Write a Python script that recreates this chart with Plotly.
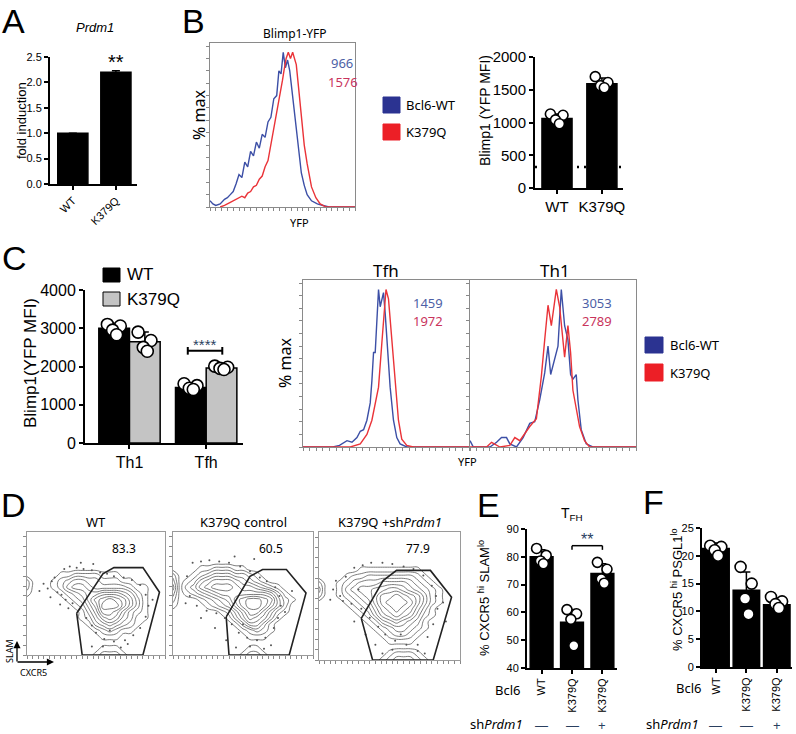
import plotly.graph_objects as go

W, H = 796, 734
BAR_FONT = 'Liberation Sans, Arial, sans-serif'
FLOW_FONT = 'Noto Sans, Open Sans, sans-serif'
BLUE_LINE = '#3c4fa6'
RED_LINE = '#ea3338'
BLUE_TEXT = '#4d5fa6'
RED_TEXT = '#c9345c'
BLUE_KEY = '#2b3391'
RED_KEY = '#ec1f26'

# ---------------- data ----------------
# A
A_CATS = ['WT', 'K379Q']
A_VALUES = [1.0, 2.2]
A_ERR = [0.0, 0.03]

# B
B_CATS = ['WT', 'K379Q']
B_VALUES = [1060, 1590]
B_ERR = [70, 90]
B_POINTS = [[1130, 1110, 1040, 980], [1700, 1610, 1560, 1530]]
B_BACKGROUND = 320
B_MFI = ['966', '1576']
HIST_KEYS = ['Bcl6-WT', 'K379Q']

B_BLUE_X = [0, 2, 4, 7, 10, 12, 14, 16, 18, 20, 22, 24, 26, 28, 30, 32, 34, 36, 38, 40,
            42, 44, 46, 47.5, 49, 50.5, 52, 53.5, 55, 57, 59, 61, 63, 65, 67, 70, 74, 78, 82, 100]
B_BLUE_Y = [4, 2, 1, 2, 5, 6, 8, 10, 15, 21, 19, 29, 26, 36, 33, 42, 38, 47, 45, 55,
            58, 70, 72, 88, 86, 100, 90, 95, 88, 72, 55, 38, 22, 14, 8, 4, 2, 1, 0, 0]
B_RED_X = [7, 10, 14, 18, 22, 24, 26, 28, 30, 32, 34, 36, 38, 40, 42, 44, 46, 48, 50, 51,
           52.5, 54, 55.5, 57, 58, 59.5, 61, 63, 65, 67, 70, 73, 76, 80, 100]
B_RED_Y = [0, 1, 3, 5, 7, 6, 9, 10, 13, 14, 18, 20, 26, 30, 40, 50, 60, 72, 82, 88,
           96, 100, 96, 100, 97, 92, 78, 58, 40, 28, 13, 6, 2, 0, 0]

# C
C_GROUPS = ['Th1', 'Tfh']
C_SERIES = ['WT', 'K379Q']
C_WT = [3000, 1450]
C_K379Q = [2650, 1960]
C_WT_ERR = [130, 80]
C_K379Q_ERR = [250, 50]
C_WT_POINTS = [[3100, 3060, 2950, 2830], [1550, 1500, 1430, 1400]]
C_K379Q_POINTS = [[2900, 2680, 2500, 2400], [2010, 1980, 1950, 1920]]

C_HIST_TITLES = ['Tfh', 'Th1']
C_MFI = [['1459', '1972'], ['3053', '2789']]
TFH_BLUE_X = [0, 18, 22, 26.5, 29.5, 32.5, 34.5, 36.5, 38.5, 40.5, 41.5, 42.5, 43.5, 44.5,
              45.5, 46.5, 47.5, 48.5, 49.5, 50.5, 52.5, 54.5, 56.5, 58.5, 62.5, 100]
TFH_BLUE_Y = [0, 0, 1, 4, 3, 6, 10, 11, 17, 28, 42, 60, 60, 83,
              100, 89, 94, 98, 85, 68, 38, 17, 6, 2, 0, 0]
TFH_RED_X = [0, 28.5, 34.5, 38.5, 41.5, 43.5, 45.5, 47.5, 49, 50, 51.5, 53.5, 55.5, 57.5,
             59.5, 62.5, 66.5, 100]
TFH_RED_Y = [0, 0, 2, 8, 17, 28, 38, 66, 89, 100, 94, 68, 38, 17, 5, 1, 0, 0]
TH1_BLUE_X = [0, 2, 12, 16, 19, 22, 24, 28, 32, 36, 39, 42, 45, 47, 48.6, 51, 53, 55, 57, 59,
              60.6, 62, 64, 65, 67, 70, 74, 100]
TH1_BLUE_Y = [4, 0, 0, 3, 6, 6, 2, 0, 6, 15, 16, 30, 47, 64, 46, 55, 64, 100, 77, 68,
              46, 43, 46, 30, 11, 2, 0, 0]
TH1_RED_X = [0, 10, 13, 16, 18, 24, 27, 30, 32, 36, 40, 43, 45, 47, 49, 52, 54, 56, 57, 59,
             60.6, 62, 64, 66, 69, 72, 100]
TH1_RED_Y = [0, 0, 3, 1, 0, 1, 6, 4, 7, 13, 18, 45, 68, 90, 77, 100, 89, 70, 57, 77,
             60, 36, 25, 13, 4, 0, 0]

# D  (density levels per 5-unit cell, top row first)
D_TITLES = ['WT', 'K379Q control', 'K379Q +sh<i>Prdm1</i>']
D_PCT = ['83.3', '60.5', '77.9']
D_GRID_WT = [
    '000000000000000000000', '000000000000000000000', '000000000000000000000',
    '000000000000000000000', '000000000000000000000', '000000000000000000000',
    '000000000000000000000',
    '000001122221110000000',
    '200012344332221100000',
    '200012455433333211000',
    '100001234556665421000',
    '000000123578987531000',
    '000000012469997531000',
    '000000001358875321000',
    '000000001246764311000',
    '000000000134543210000',
    '000000000012321100000',
    '000000000001110000000',
    '000000000000000000000',
    '000000000001110000000',
    '000000000012221000000',
]
D_GRID_K379Q = [
    '000000000000000000000', '000000000000000000000', '000000000000000000000',
    '000000000000000000000', '000000000000000000000', '000000000000000000000',
    '000011222110000000000',
    '200123444332100000000',
    '301245666543210000000',
    '402356777655432100000',
    '301234566666665310000',
    '200012345789987421000',
    '100001234689986420000',
    '000000012468864210000',
    '000000001357653100000',
    '000000000135531000000',
    '000000000012321000000',
    '000000000001110000000',
    '000000000000000000000',
    '000000000001100000000',
    '000000000012210000000',
]
D_GRID_SH = [
    '000000000000000000000', '000000000000000000000', '000000000000000000000',
    '000000000000000000000', '000000000000000000000', '000000000000000000000',
    '000000111111111000000',
    '000012233333332100000',
    '200123444555543210000',
    '300134556677654321000',
    '200123456889876421000',
    '000012346899986421000',
    '000001235789875310000',
    '000000124678764210000',
    '000000012456543100000',
    '000000001234432100000',
    '000000000123321000000',
    '000000000011110000000',
    '000000000000000000000',
    '000000000012221000000',
    '000000000123332100000',
]
D_GRID_STEP = [0, 5, 10, 15, 20, 25, 30, 35, 40, 45, 50, 55, 60, 65, 70, 75, 80, 85, 90, 95, 100]

D_GATE_WT = [(36, 34), (55, 66), (63, 71), (84, 71), (96, 51), (84, 0), (40, 0), (36, 34)]
D_GATE_K379Q = [(38, 31), (55, 64), (64, 69.5), (81, 69.5), (95, 50.5), (83, 0), (40, 0), (38, 31)]
D_GATE_SH = [(30, 32.5), (45.5, 62), (55, 70), (79, 70), (94, 49), (81, 0), (38, 0), (30, 32.5)]

D_DOTS_WT = [(12, 58), (15, 54), (18, 60), (20, 63), (22, 51), (25, 49), (17, 47), (27, 70),
             (31, 72), (36, 71), (41, 70), (47, 69), (53, 67), (58, 66), (63, 64), (70, 63),
             (76, 61), (82, 57), (86, 49), (88, 40), (86, 31), (82, 22), (77, 16), (71, 12),
             (63, 11), (56, 13), (50, 18), (47, 24), (43, 30), (38, 37), (33, 42), (28, 45),
             (55, 7), (68, 6), (47, 7), (9, 52), (60, 20), (73, 9), (39, 75), (48, 74),
             (91, 45), (30, 38), (24, 41)]
D_DOTS_K379Q = [(10, 64), (12, 48), (14, 75), (20, 76), (26, 77), (33, 76), (40, 75), (48, 72),
                (55, 68), (62, 63), (67, 60), (73, 55), (76, 48), (77, 40), (75, 30), (72, 22),
                (66, 14), (60, 12), (53, 14), (47, 18), (42, 25), (37, 30), (31, 34), (24, 36),
                (17, 40), (9, 42), (55, 7), (65, 5), (45, 6), (80, 35), (30, 22), (50, 25),
                (85, 52), (38, 12), (70, 8), (20, 30), (58, 78), (44, 80)]
D_DOTS_SH = [(12, 62), (15, 50), (19, 65), (25, 72), (31, 74), (37, 76), (45, 76), (52, 75),
             (60, 73), (67, 71), (74, 66), (80, 58), (83, 50), (84, 40), (81, 28), (77, 18),
             (70, 12), (62, 12), (54, 15), (47, 20), (42, 26), (36, 33), (30, 40), (23, 44),
             (17, 46), (8, 47), (52, 8), (70, 7), (45, 5), (88, 45), (25, 30), (33, 20),
             (58, 20), (90, 30), (40, 12), (75, 5), (10, 55), (28, 55)]

# E
E_CATS = ['WT', 'K379Q', 'K379Q']
E_VALUES = [80, 56.5, 74]
E_ERR = [2.5, 4.5, 3.5]
E_POINTS = [[83, 80.5, 78.5, 77.5], [61, 59.5, 57.5, 48], [78, 75.5, 72, 70.5]]
SH_ROW = ['\u2014', '\u2014', '+']

# F
F_CATS = ['WT', 'K379Q', 'K379Q']
F_VALUES = [21.3, 13.8, 11.2]
F_ERR = [1.0, 3.3, 1.2]
F_POINTS = [[21.8, 21.6, 21.0, 20.0], [18.0, 15.0, 12.3, 9.5], [12.6, 11.8, 11.3, 10.6]]

JITTER = [-0.22, 0.2, -0.05, 0.08]

# ---------------- helpers ----------------
traces = []
layout = dict(width=W, height=H, margin=dict(l=0, r=0, t=0, b=0),
              paper_bgcolor='white', plot_bgcolor='white', showlegend=False,
              barmode='overlay', annotations=[], shapes=[])


def xr(n):
    return 'x' if n == 1 else f'x{n}'


def yr(n):
    return 'y' if n == 1 else f'y{n}'


def xk(n):
    return 'xaxis' if n == 1 else f'xaxis{n}'


def yk(n):
    return 'yaxis' if n == 1 else f'yaxis{n}'


def ann(x, y, text, size, color='black', family=BAR_FONT, angle=0, xanchor='center'):
    layout['annotations'].append(dict(
        x=x / W, y=1 - y / H, xref='paper', yref='paper', text=text, showarrow=False,
        textangle=angle, xanchor=xanchor, yanchor='middle',
        font=dict(size=size, color=color, family=family)))


def arrow(x, y, ax, ay):
    layout['annotations'].append(dict(
        x=x / W, y=1 - y / H, xref='paper', yref='paper', axref='pixel', ayref='pixel',
        ax=ax, ay=ay, text='', showarrow=True, arrowhead=2, arrowsize=1.1,
        arrowwidth=1.3, arrowcolor='black'))


def box(x0, y0, x1, y1, fill, line='black'):
    layout['shapes'].append(dict(type='rect', xref='paper', yref='paper',
                                 x0=x0 / W, x1=x1 / W, y0=1 - y1 / H, y1=1 - y0 / H,
                                 fillcolor=fill, line=dict(color=line, width=1)))


def bar_axes(n, px0, px1, ptop, pbot, xrange, yrange, labels, dtick, tsize,
             angle=0, fmt=None):
    common = dict(showline=True, linewidth=2, linecolor='black', ticks='outside',
                  ticklen=4, tickwidth=2, tickcolor='black', showgrid=False,
                  zeroline=False, automargin=False,
                  tickfont=dict(family=BAR_FONT, size=tsize, color='black'))
    layout[xk(n)] = dict(domain=[px0 / W, px1 / W], anchor=yr(n), range=xrange,
                         tickvals=list(range(len(labels))), ticktext=labels,
                         tickangle=angle, **common)
    layout[yk(n)] = dict(domain=[1 - pbot / H, 1 - ptop / H], anchor=xr(n), range=yrange,
                         dtick=dtick, tickformat=fmt, **common)


def flow_axes(n, px0, px1, ptop, pbot, yrange, color='#8a8a8a'):
    common = dict(showline=True, mirror=True, linecolor=color, linewidth=1,
                  ticks='outside', ticklen=3, tickcolor='#888', showticklabels=False,
                  showgrid=False, zeroline=False, automargin=False)
    layout[xk(n)] = dict(domain=[px0 / W, px1 / W], anchor=yr(n), range=[0, 100],
                         dtick=4, **common)
    layout[yk(n)] = dict(domain=[1 - pbot / H, 1 - ptop / H], anchor=xr(n), range=yrange,
                         dtick=8, **common)


def bars_with_points(n, xs, values, err, points, width, color, size):
    traces.append(go.Bar(x=xs, y=values, width=width, xaxis=xr(n), yaxis=yr(n),
                         marker=dict(color=color, line=dict(color='black', width=1.5)),
                         error_y=dict(type='data', array=err, color='black',
                                      thickness=1.5, width=4)))
    if points is None:
        return
    px, py = [], []
    for x, pts in zip(xs, points):
        for j, v in enumerate(pts):
            px.append(x + JITTER[j] * width)
            py.append(v)
    traces.append(go.Scatter(x=px, y=py, mode='markers', xaxis=xr(n), yaxis=yr(n),
                             cliponaxis=False,
                             marker=dict(size=size, color='white',
                                         line=dict(color='black', width=1.6))))


def hist_line(n, x, y, color):
    traces.append(go.Scatter(x=x, y=y, mode='lines', xaxis=xr(n), yaxis=yr(n),
                             line=dict(color=color, width=1.4)))


def sh_row(n, y):
    for i, s in enumerate(SH_ROW):
        layout['annotations'].append(dict(x=i, y=1 - y / H, xref=xr(n), yref='paper', text=s,
                                          showarrow=False, yanchor='middle',
                                          font=dict(size=13, family=BAR_FONT)))


# ---------------- A ----------------
bar_axes(1, 50, 137, 57, 184, [-0.53, 1.49], [0, 2.5], A_CATS, 0.5, 11, angle=-45, fmt='.1f')
bars_with_points(1, [0, 1], A_VALUES, A_ERR, None, 0.7, 'black', 0)
layout['annotations'].append(dict(x=1, y=2.4, xref='x', yref='y', text='**', showarrow=False,
                                  font=dict(size=20, family=BAR_FONT, color='black')))
ann(95, 27, '<i>Prdm1</i>', 13)
ann(21, 121, 'fold induction', 13, angle=-90)
ann(13, 21, 'A', 34)

# ---------------- B ----------------
flow_axes(2, 210, 355, 43, 207, [0, 106])
hist_line(2, B_BLUE_X, B_BLUE_Y, BLUE_LINE)
hist_line(2, B_RED_X, B_RED_Y, RED_LINE)
ann(295, 33, 'Blimp1-YFP', 12, family=FLOW_FONT)
ann(342, 63, B_MFI[0], 13, color=BLUE_TEXT, family=FLOW_FONT)
ann(343, 82, B_MFI[1], 13, color=RED_TEXT, family=FLOW_FONT)
ann(199, 115, '% max', 16, family=FLOW_FONT, angle=-90)
ann(299, 222, 'YFP', 11, family=FLOW_FONT)
box(383, 97, 400, 113, BLUE_KEY, BLUE_KEY)
box(383, 124, 400, 140, RED_KEY, RED_KEY)
ann(404, 105, HIST_KEYS[0], 13, family=FLOW_FONT, xanchor='left')
ann(404, 132, HIST_KEYS[1], 13, family=FLOW_FONT, xanchor='left')
ann(193, 21, 'B', 34)

bar_axes(3, 535, 623, 57, 188, [-0.49, 1.47], [0, 2000], B_CATS, 500, 12)
layout['shapes'].append(dict(type='line', xref='x3', yref='y3', x0=-0.49, x1=1.47,
                             y0=B_BACKGROUND, y1=B_BACKGROUND, layer='below',
                             line=dict(color='black', width=2.5, dash='2px,5px')))
bars_with_points(3, [0, 1], B_VALUES, B_ERR, B_POINTS, 0.67, 'black', 10)
layout[xk(3)]['tickfont']['size'] = 15
ann(485, 110, 'Blimp1 (YFP MFI)', 14, angle=-90)

# ---------------- C bar ----------------
bar_axes(4, 85, 243, 290, 443, [-0.58, 1.48], [0, 4000], C_GROUPS, 1000, 15)
layout[xk(4)]['tickfont']['size'] = 16
bars_with_points(4, [-0.2, 0.8], C_WT, C_WT_ERR, C_WT_POINTS, 0.4, 'black', 12)
bars_with_points(4, [0.2, 1.2], C_K379Q, C_K379Q_ERR, C_K379Q_POINTS, 0.4, '#c4c4c4', 12)
sig_y = C_K379Q[1] + 450
for seg in [(0.76, sig_y, 1.21, sig_y), (0.76, sig_y - 100, 0.76, sig_y + 100),
            (1.21, sig_y - 100, 1.21, sig_y + 100)]:
    layout['shapes'].append(dict(type='line', xref='x4', yref='y4', x0=seg[0], y0=seg[1],
                                 x1=seg[2], y1=seg[3], line=dict(color='black', width=2)))
layout['annotations'].append(dict(x=0.985, y=sig_y + 170, xref='x4', yref='y4', text='****',
                                  showarrow=False, font=dict(size=15, family=BAR_FONT)))
box(103, 268, 120, 282, 'black')
box(103, 292, 120, 306, '#c4c4c4')
ann(125, 275, C_SERIES[0], 17, xanchor='left')
ann(125, 299, C_SERIES[1], 17, xanchor='left')
ann(31, 363, 'Blimp1(YFP MFI)', 17, angle=-90)
ann(14, 258, 'C', 34)

# ---------------- C histograms ----------------
flow_axes(5, 303, 469, 280, 447, [0, 106])
flow_axes(6, 470, 636, 280, 447, [0, 106])
hist_line(5, TFH_BLUE_X, TFH_BLUE_Y, BLUE_LINE)
hist_line(5, TFH_RED_X, TFH_RED_Y, RED_LINE)
hist_line(6, TH1_BLUE_X, TH1_BLUE_Y, BLUE_LINE)
hist_line(6, TH1_RED_X, TH1_RED_Y, RED_LINE)
for cx, title, mfi in zip([386, 555], C_HIST_TITLES, C_MFI):
    ann(cx, 270, title, 17, family=FLOW_FONT)
    ann(cx + 42, 303, mfi[0], 13, color=BLUE_TEXT, family=FLOW_FONT)
    ann(cx + 42, 321, mfi[1], 13, color=RED_TEXT, family=FLOW_FONT)
ann(285, 363, '% max', 16, family=FLOW_FONT, angle=-90)
ann(467, 461, 'YFP', 11, family=FLOW_FONT)
box(645, 337, 663, 353, BLUE_KEY, BLUE_KEY)
box(645, 364, 663, 381, RED_KEY, RED_KEY)
ann(668, 345, HIST_KEYS[0], 13, family=FLOW_FONT, xanchor='left')
ann(668, 373, HIST_KEYS[1], 13, family=FLOW_FONT, xanchor='left')

# ---------------- D ----------------
d_panels = [
    (7, 27, 165, 532, 655, D_GRID_WT, D_GATE_WT, D_DOTS_WT),
    (8, 173, 313, 532, 655, D_GRID_K379Q, D_GATE_K379Q, D_DOTS_K379Q),
    (9, 319, 460, 532, 660, D_GRID_SH, D_GATE_SH, D_DOTS_SH),
]
for (n, x0, x1, y0, y1, grid, gate, dots), title, pct in zip(d_panels, D_TITLES, D_PCT):
    flow_axes(n, x0, x1, y0, y1, [0, 100], color='#9a9a9a')
    z = [[int(ch) for ch in row] for row in grid[::-1]]
    traces.append(go.Contour(z=z, x=D_GRID_STEP, y=D_GRID_STEP, xaxis=xr(n), yaxis=yr(n),
                             showscale=False, colorscale=[[0, '#5a5a5a'], [1, '#5a5a5a']],
                             contours=dict(coloring='lines', start=0.5, end=9.5, size=1),
                             line=dict(width=0.8, smoothing=1.3), hoverinfo='skip'))
    traces.append(go.Scatter(x=[p[0] for p in dots], y=[p[1] for p in dots], mode='markers',
                             xaxis=xr(n), yaxis=yr(n),
                             marker=dict(size=2, color='#555')))
    traces.append(go.Scatter(x=[p[0] for p in gate], y=[p[1] for p in gate], mode='lines',
                             xaxis=xr(n), yaxis=yr(n), cliponaxis=False,
                             line=dict(color='#222', width=1.6)))
    cx = (x0 + x1) / 2
    ann(cx, 522, title, 13, family=FLOW_FONT)
    ann(cx + 28, 548, pct, 12, family=FLOW_FONT)
ann(13, 505, 'D', 34)
arrow(17, 641, 0, 22)
arrow(54, 662, -38, 0)
ann(9, 651, 'SLAM', 9, family=FLOW_FONT, angle=-90)
ann(33, 672, 'CXCR5', 9, family=FLOW_FONT)

# ---------------- E ----------------
bar_axes(10, 527, 617, 529, 668, [-0.48, 2.48], [40, 90], E_CATS, 10, 12, angle=-90)
layout[xk(10)]['tickfont']['size'] = 11
bars_with_points(10, [0, 1, 2], E_VALUES, E_ERR, E_POINTS, 0.75, 'black', 10)
e_sig = 84
for seg in [(1, e_sig, 2, e_sig), (1, e_sig, 1, e_sig - 1.5), (2, e_sig, 2, e_sig - 1.5)]:
    layout['shapes'].append(dict(type='line', xref='x10', yref='y10', x0=seg[0], y0=seg[1],
                                 x1=seg[2], y1=seg[3], line=dict(color='black', width=1.5)))
layout['annotations'].append(dict(x=1.5, y=e_sig + 2.3, xref='x10', yref='y10', text='**',
                                  showarrow=False, font=dict(size=16, family=BAR_FONT)))
ann(572, 514, 'T<sub>FH</sub>', 14)
ann(484, 598, '% CXCR5 <sup>hi</sup> SLAM<sup>lo</sup>', 13, angle=-90)
ann(507, 690, 'Bcl6', 13, family=FLOW_FONT)
ann(496, 724, 'sh<i>Prdm1</i>', 13, family=FLOW_FONT)
sh_row(10, 725)
ann(488, 505, 'E', 34)

# ---------------- F ----------------
bar_axes(11, 702, 792, 528, 667, [-0.46, 2.5], [0, 25], F_CATS, 5, 12, angle=-90)
layout[xk(11)]['tickfont']['size'] = 11
bars_with_points(11, [0, 1, 2], F_VALUES, F_ERR, F_POINTS, 0.87, 'black', 11)
ann(677, 590, '% CXCR5 <sup>hi</sup> PSGL1<sup>lo</sup>', 13, angle=-90)
ann(688, 688, 'Bcl6', 13, family=FLOW_FONT)
ann(672, 724, 'sh<i>Prdm1</i>', 13, family=FLOW_FONT)
sh_row(11, 725)
ann(653, 502, 'F', 34)

fig = go.Figure(data=traces, layout=layout)
# the page body has a default 8px margin; drop it so the figure fills the window
fig.write_html("out.html", config={'displayModeBar': False},
               post_script="document.body.style.margin='0px';")
